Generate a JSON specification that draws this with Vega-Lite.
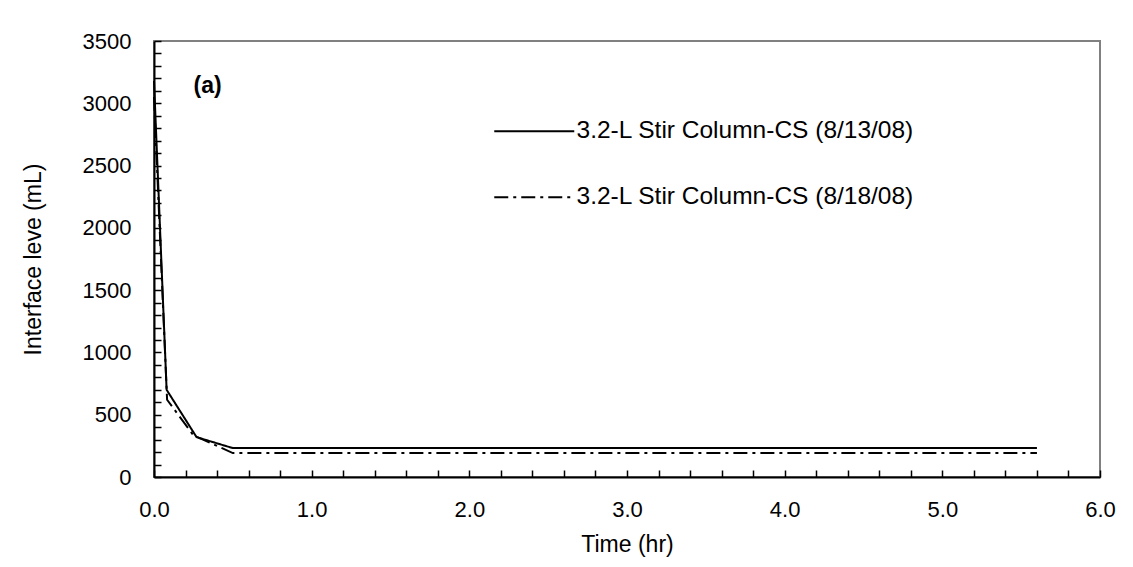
{
  "$schema": "https://vega.github.io/schema/vega-lite/v6.json",
  "width": 946,
  "height": 436,
  "autosize": {"type": "none"},
  "padding": {"left": 154, "top": 41, "right": 33, "bottom": 90},
  "background": "white",
  "config": {
    "font": "Liberation Sans",
    "view": {"stroke": "#808080", "strokeWidth": 2},
    "axis": {"grid": false, "domainColor": "black", "domainWidth": 2, "tickColor": "black", "tickWidth": 1.5, "labelColor": "black", "titleColor": "black", "titleFontWeight": "normal", "labelFont": "Liberation Sans", "titleFont": "Liberation Sans"}
  },
  "datasets": {
    "series": [
      {"series": "3.2-L Stir Column-CS (8/13/08)", "time": 0, "level": 3180},
      {"series": "3.2-L Stir Column-CS (8/13/08)", "time": 0.08, "level": 700},
      {"series": "3.2-L Stir Column-CS (8/13/08)", "time": 0.27, "level": 320},
      {"series": "3.2-L Stir Column-CS (8/13/08)", "time": 0.5, "level": 232},
      {"series": "3.2-L Stir Column-CS (8/13/08)", "time": 5.6, "level": 232},
      {"series": "3.2-L Stir Column-CS (8/18/08)", "time": 0, "level": 3050},
      {"series": "3.2-L Stir Column-CS (8/18/08)", "time": 0.083, "level": 620},
      {"series": "3.2-L Stir Column-CS (8/18/08)", "time": 0.25, "level": 335},
      {"series": "3.2-L Stir Column-CS (8/18/08)", "time": 0.5, "level": 192},
      {"series": "3.2-L Stir Column-CS (8/18/08)", "time": 5.6, "level": 192}
    ],
    "notes": [
      {"label": "(a)", "time": 0.34, "level": 3140}
    ]
  },
  "encoding": {
    "x": {
      "field": "time", "type": "quantitative",
      "scale": {"domain": [0, 6], "nice": false, "zero": false},
      "axis": {
        "title": "Time (hr)",
        "values": [0, 0.2, 0.4, 0.6, 0.8, 1, 1.2, 1.4, 1.6, 1.8, 2, 2.2, 2.4, 2.6, 2.8, 3, 3.2, 3.4, 3.6, 3.8, 4, 4.2, 4.4, 4.6, 4.8, 5, 5.2, 5.4, 5.6, 5.8, 6],
        "labelExpr": "abs(datum.value - round(datum.value)) < 0.000001 ? format(datum.value, '.1f') : ''",
        "tickSize": -7,
        "labelPadding": 29,
        "labelFontSize": 22,
        "labelFlush": false,
        "labelOverlap": false,
        "titleFontSize": 23,
        "titlePadding": 13
      }
    },
    "y": {
      "field": "level", "type": "quantitative",
      "scale": {"domain": [0, 3500], "nice": false},
      "axis": {
        "title": "Interface leve (mL)",
        "values": [0, 100, 200, 300, 400, 500, 600, 700, 800, 900, 1000, 1100, 1200, 1300, 1400, 1500, 1600, 1700, 1800, 1900, 2000, 2100, 2200, 2300, 2400, 2500, 2600, 2700, 2800, 2900, 3000, 3100, 3200, 3300, 3400, 3500],
        "labelExpr": "datum.value % 500 === 0 ? format(datum.value, 'd') : ''",
        "tickSize": -7,
        "labelPadding": 30,
        "labelFontSize": 22,
        "labelFlush": false,
        "labelOverlap": false,
        "titleFontSize": 23,
        "titlePadding": 37
      }
    }
  },
  "layer": [
    {
      "data": {"name": "series"},
      "mark": {"type": "line", "color": "black", "strokeWidth": 2},
      "encoding": {
        "strokeDash": {
          "field": "series", "type": "nominal",
          "scale": {"domain": ["3.2-L Stir Column-CS (8/13/08)", "3.2-L Stir Column-CS (8/18/08)"], "range": [[1, 0], [14, 5, 3, 5]]},
          "legend": {
            "title": null,
            "orient": "none",
            "legendX": 368,
            "legendY": 78,
            "padding": 0,
            "symbolType": "M-4,0H4",
            "symbolSize": 400,
            "symbolStrokeWidth": 2,
            "symbolStrokeColor": "black",
            "symbolFillColor": "transparent",
            "labelFontSize": 24.5,
            "labelFont": "Liberation Sans",
            "labelColor": "black",
            "labelOffset": 30,
            "labelLimit": 600,
            "rowPadding": 41
          }
        }
      }
    },
    {
      "data": {"name": "notes"},
      "mark": {"type": "text", "fontSize": 23, "fontWeight": "bold", "font": "Liberation Sans", "color": "black"},
      "encoding": {
        "text": {"field": "label"}
      }
    }
  ]
}
